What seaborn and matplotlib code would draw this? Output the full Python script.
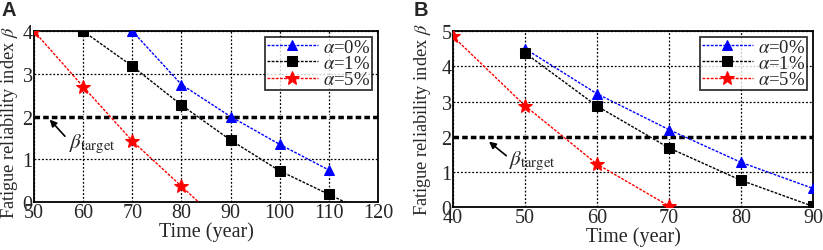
import matplotlib
matplotlib.use('Agg')
import matplotlib.pyplot as plt
import seaborn as sns
import pandas as pd

# panel A data (last points lie below zero and get clipped by the axes)
years_a0 = [70, 80, 90, 100, 110]
beta_a0 = [4.0, 2.75, 2.0, 1.35, 0.75]
years_a1 = [60, 70, 80, 90, 100, 110, 120]
beta_a1 = [4.0, 3.18, 2.27, 1.45, 0.73, 0.18, -0.37]
years_a5 = [50, 60, 70, 80, 90]
beta_a5 = [4.0, 2.7, 1.43, 0.37, -0.69]

# panel B data
years_b0 = [50, 60, 70, 80, 90]
beta_b0 = [4.5, 3.22, 2.2, 1.27, 0.53]
years_b1 = [50, 60, 70, 80, 90]
beta_b1 = [4.38, 2.87, 1.68, 0.76, 0.02]
years_b5 = [40, 50, 60, 70]
beta_b5 = [4.85, 2.88, 1.22, 0.03]

labels = [r'$\alpha$=0%', r'$\alpha$=1%', r'$\alpha$=5%']
colors = ['#0000ff', 'black', '#ff0000']
markers = ['^', 's', '*']
msizes = [7, 6.5, 10]
beta_target = 2

sns.set_style('white')
plt.rcParams['font.family'] = ['Liberation Serif', 'DejaVu Serif']
plt.rcParams['mathtext.fontset'] = 'stix'


def panel(ax, series, xlim, ylim, xticks, yticks, txt_xy, tail, head, ylab_xy):
    for (xs, ys), lab, c, m, ms in zip(series, labels, colors, markers, msizes):
        df = pd.DataFrame({'x': xs, 'y': ys})
        sns.lineplot(data=df, x='x', y='y', ax=ax, color=c, marker=m,
                     markersize=ms, markeredgecolor=c, linestyle=(0, (2, 1)),
                     linewidth=1, label=lab, zorder=3)
    # white underlay hides the dotted grid line behind the target line
    ax.axhline(beta_target, color='white', linewidth=3, zorder=1.2)
    ax.axhline(beta_target, color='black', linestyle=(0, (1.6, 0.9)), linewidth=2.5, zorder=1.5)
    ax.set_xlim(*xlim)
    ax.set_ylim(*ylim)
    ax.set_xticks(xticks)
    ax.set_yticks(yticks)
    ax.grid(True, color='black', linestyle=(0, (1.5, 1.5)), linewidth=0.9, zorder=0.5)
    ax.set_axisbelow(True)
    for s in ax.spines.values():
        s.set_color('black')
        s.set_linewidth(1.3)
    ax.tick_params(length=0, pad=1, labelsize=14.5)
    ax.set_xlabel('Time (year)', fontsize=14.5, labelpad=-1)
    ax.set_ylabel(r'Fatigue reliability index $\beta$', fontsize=13.2)
    ax.yaxis.set_label_coords(*ylab_xy)
    ax.text(txt_xy[0], txt_xy[1], r'$\beta_{\rm target}$', fontsize=15, va='bottom')
    ax.annotate('', xy=head, xytext=tail,
                arrowprops=dict(arrowstyle='-|>', color='black', lw=1.2,
                                mutation_scale=10, shrinkA=0, shrinkB=0))
    leg = ax.legend(loc='upper right', frameon=True, fancybox=False, fontsize=13.5,
                    edgecolor='black', borderaxespad=0.3, handlelength=2.7,
                    handletextpad=0.3, borderpad=0.1, labelspacing=-0.05)
    leg.get_frame().set_linewidth(1.3)


fig = plt.figure(figsize=(8.23, 2.51), dpi=100)
ax_a = fig.add_axes([0.0413, 0.191, 0.418, 0.681])
ax_b = fig.add_axes([0.5504, 0.171, 0.4375, 0.701])

panel(ax_a, [(years_a0, beta_a0), (years_a1, beta_a1), (years_a5, beta_a5)],
      (50, 120), (0, 4), range(50, 121, 10), range(0, 5),
      (57.2, 1.1), (56.3, 1.54), (53.2, 1.93), (-0.04, 0.47))
panel(ax_b, [(years_b0, beta_b0), (years_b1, beta_b1), (years_b5, beta_b5)],
      (40, 90), (0, 5), range(40, 91, 10), range(0, 6),
      (47.8, 1.0), (47.4, 1.46), (45.0, 1.86), (-0.055, 0.5))

fig.text(0.002, 0.995, 'A', fontsize=14.5, fontweight='bold', va='top',
         family=['Liberation Sans', 'DejaVu Sans'])
fig.text(0.503, 0.995, 'B', fontsize=14.5, fontweight='bold', va='top',
         family=['Liberation Sans', 'DejaVu Sans'])

fig.savefig('out.png', dpi=100)
